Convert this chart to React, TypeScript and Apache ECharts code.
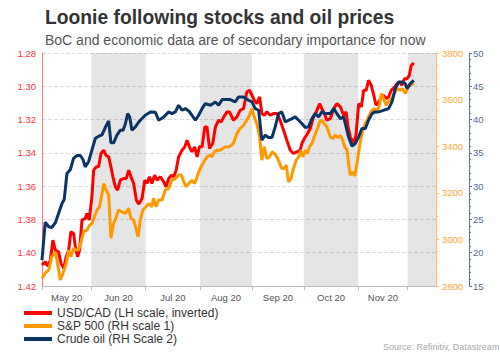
import React, { useEffect, useRef } from "react";
import * as echarts from "echarts";

// trading-day index of each month start (May 1 2020 = 0)
const monthStarts = [0, 20, 42, 64, 85, 106, 128, 148];
const axisEndDay = 159.5;
const monthLabels = ["May 20", "Jun 20", "Jul 20", "Aug 20", "Sep 20", "Oct 20", "Nov 20"];
const shadedMonthIdx = [1, 3, 5, 7];

const title = "Loonie following stocks and oil prices";
const subtitle = "BoC and economic data are of secondary importance for now";
const source = "Source: Refinitiv, Datastream";

const seriesNames = ["USD/CAD (LH scale, inverted)", "S&P 500 (RH scale 1)", "Crude oil (RH Scale 2)"];

const usdcad: [number, number][] = [
  [0.0, 1.4074], [1.3, 1.4054], [2.3, 1.408], [3.4, 1.4044], [4.4, 1.3924], [5.4, 1.3984], [6.7, 1.3994],
  [7.7, 1.4064], [8.8, 1.4094], [9.8, 1.4024], [10.8, 1.3984], [11.7, 1.3874], [12.8, 1.3884], [13.5, 1.3964],
  [14.4, 1.4024], [15.2, 1.3984], [16.2, 1.3804], [17.5, 1.3794], [18.2, 1.3764], [19.1, 1.3804], [20.2, 1.3664],
  [20.9, 1.3504], [22.0, 1.3484], [22.9, 1.3484], [23.9, 1.3404], [25.0, 1.3384], [25.9, 1.3414], [27.0, 1.3424],
  [27.9, 1.3484], [28.7, 1.3544], [29.7, 1.3604], [30.6, 1.3624], [31.7, 1.3564], [33.0, 1.3554], [34.1, 1.3554],
  [35.1, 1.3504], [36.0, 1.3544], [37.1, 1.3584], [38.2, 1.3684], [39.2, 1.3708], [40.5, 1.3674], [41.6, 1.3564],
  [42.5, 1.3584], [43.5, 1.3544], [44.5, 1.3584], [45.6, 1.3534], [46.6, 1.3564], [47.9, 1.3544], [49.3, 1.3574],
  [50.2, 1.3604], [51.3, 1.3554], [52.4, 1.3534], [53.3, 1.3544], [54.3, 1.3504], [55.3, 1.3424], [56.7, 1.3384],
  [57.8, 1.3364], [58.7, 1.3324], [59.7, 1.3364], [60.7, 1.3394], [61.8, 1.3364], [62.8, 1.3424], [63.7, 1.3364],
  [64.8, 1.3364], [65.9, 1.3244], [66.8, 1.3244], [67.8, 1.3374], [69.1, 1.3344], [70.2, 1.3244], [71.5, 1.3204],
  [72.6, 1.3214], [73.6, 1.3184], [74.9, 1.3154], [75.9, 1.3154], [77.5, 1.3204], [78.9, 1.3184], [80.2, 1.3144],
  [81.6, 1.3134], [82.9, 1.3034], [84.0, 1.3024], [85.0, 1.3054], [85.9, 1.3084], [87.0, 1.3104], [88.1, 1.3064],
  [89.0, 1.3164], [90.0, 1.3174], [91.0, 1.3154], [92.4, 1.3174], [93.7, 1.3164], [95.1, 1.3164], [96.4, 1.3204],
  [97.8, 1.3264], [99.1, 1.3324], [100.5, 1.3384], [101.8, 1.3404], [103.2, 1.3394], [104.5, 1.3384], [105.2, 1.3344],
  [106.2, 1.3314], [107.5, 1.3284], [108.6, 1.3254], [109.9, 1.3184], [111.0, 1.3154], [112.4, 1.3104], [113.3, 1.3134],
  [114.3, 1.3164], [115.3, 1.3204], [116.7, 1.3194], [118.1, 1.3134], [119.4, 1.3104], [120.8, 1.3124], [122.1, 1.3174],
  [123.1, 1.3154], [123.9, 1.3244], [124.8, 1.3304], [126.2, 1.3344], [127.1, 1.3294], [128.2, 1.3104], [129.3, 1.3124],
  [130.2, 1.3024], [131.2, 1.3024], [132.2, 1.2964], [133.3, 1.2994], [134.3, 1.3054], [135.2, 1.3114], [136.3, 1.3094],
  [137.4, 1.3064], [138.3, 1.3054], [139.3, 1.3074], [140.3, 1.3064], [141.4, 1.3024], [142.8, 1.3004], [143.7, 1.2984],
  [144.7, 1.2974], [145.7, 1.2994], [146.8, 1.2954], [147.8, 1.2954], [148.7, 1.2934], [149.5, 1.2874], [150.5, 1.286],
];

const sp500: [number, number][] = [
  [0.0, 2833], [1.3, 2855], [2.7, 2869], [4.0, 2926], [5.4, 2947], [6.3, 2897], [7.4, 2826], [8.5, 2855],
  [9.8, 2897], [10.8, 2954], [11.7, 2926], [12.8, 2962], [13.9, 2954], [14.8, 2954], [15.8, 2990], [16.9, 3033],
  [18.2, 3040], [19.3, 3061], [20.2, 3068], [21.2, 3097], [22.3, 3126], [23.3, 3140], [24.3, 3197], [25.0, 3240],
  [26.0, 3211], [27.0, 3190], [27.9, 3005], [29.0, 3068], [30.1, 3097], [31.0, 3126], [32.4, 3118], [33.7, 3111],
  [35.1, 3133], [36.0, 3090], [37.1, 3083], [38.2, 3040], [38.9, 3011], [39.8, 3083], [40.8, 3126], [42.1, 3140],
  [43.2, 3154], [44.3, 3140], [45.2, 3176], [46.2, 3140], [47.2, 3169], [48.6, 3169], [49.9, 3212], [51.3, 3219],
  [52.6, 3254], [54.0, 3261], [55.3, 3276], [56.4, 3276], [57.4, 3247], [58.3, 3226], [59.4, 3240], [60.7, 3254],
  [61.8, 3240], [62.8, 3269], [63.7, 3297], [64.8, 3319], [65.9, 3340], [66.8, 3354], [67.8, 3362], [68.8, 3354],
  [69.8, 3376], [70.9, 3383], [72.2, 3383], [73.2, 3390], [74.2, 3397], [75.6, 3397], [76.2, 3400], [77.5, 3412],
  [78.9, 3454], [80.2, 3476], [81.6, 3490], [82.9, 3512], [84.0, 3533], [85.0, 3562], [85.9, 3526], [87.0, 3497],
  [88.1, 3440], [89.0, 3340], [90.0, 3397], [91.0, 3347], [92.1, 3354], [93.1, 3376], [94.0, 3369], [95.1, 3354],
  [96.2, 3326], [97.1, 3304], [98.1, 3304], [98.9, 3319], [99.8, 3247], [100.8, 3261], [101.8, 3304], [102.9, 3340],
  [103.9, 3354], [104.8, 3383], [105.6, 3354], [106.6, 3383], [107.5, 3369], [108.3, 3397], [109.3, 3412], [110.2, 3440],
  [111.3, 3469], [112.4, 3504], [113.3, 3512], [114.3, 3497], [115.3, 3483], [116.7, 3440], [117.7, 3433], [118.7, 3447],
  [119.8, 3437], [120.8, 3447], [121.7, 3426], [122.5, 3397], [123.5, 3383], [124.1, 3326], [124.8, 3276], [125.8, 3290],
  [126.6, 3272], [127.5, 3326], [128.5, 3397], [129.5, 3454], [130.6, 3490], [131.6, 3512], [132.5, 3533], [133.6, 3554],
  [134.7, 3562], [135.6, 3547], [136.6, 3576], [137.4, 3626], [138.3, 3604], [139.3, 3576], [140.1, 3590], [141.0, 3597],
  [142.0, 3612], [143.0, 3633], [144.1, 3647], [145.1, 3640], [146.0, 3647], [147.1, 3626], [148.2, 3654], [149.1, 3662],
  [150.5, 3669],
];

const crude: [number, number][] = [
  [0.0, 18.9], [1.3, 24.6], [2.7, 23.9], [4.0, 23.8], [5.4, 24.5], [6.7, 25.9], [8.1, 27.4], [9.0, 28.0],
  [10.1, 31.9], [11.5, 32.5], [12.8, 34.2], [14.2, 34.6], [15.5, 34.6], [16.6, 34.0], [17.5, 32.9], [18.9, 33.7],
  [20.2, 35.4], [21.6, 37.2], [23.0, 37.5], [24.3, 37.7], [25.6, 38.8], [27.0, 39.8], [27.9, 36.5], [29.0, 36.5],
  [30.4, 37.7], [31.7, 38.4], [32.8, 38.4], [33.7, 39.3], [34.7, 40.9], [35.5, 40.4], [36.4, 38.4], [37.8, 38.9],
  [39.1, 39.6], [39.8, 39.9], [41.8, 40.65], [43.9, 41.15], [45.9, 41.1], [47.2, 39.9], [49.3, 40.4], [51.3, 41.15],
  [52.6, 40.9], [54.0, 41.15], [55.3, 42.15], [56.7, 41.4], [58.0, 41.65], [59.4, 41.3], [60.7, 40.65], [62.1, 39.9],
  [63.4, 40.65], [64.8, 41.65], [66.1, 42.4], [68.2, 42.15], [70.2, 42.65], [71.5, 42.15], [72.9, 43.0], [74.9, 43.0],
  [76.2, 43.0], [78.2, 42.65], [79.6, 43.4], [81.6, 43.4], [83.6, 42.9], [85.0, 42.65], [86.3, 41.65], [87.7, 41.4],
  [89.0, 36.9], [90.4, 37.65], [91.7, 37.3], [93.1, 37.3], [94.4, 38.9], [95.8, 40.9], [97.1, 41.15], [98.5, 39.65],
  [99.8, 39.9], [101.2, 40.15], [102.5, 40.4], [103.9, 39.9], [105.2, 39.4], [106.6, 38.8], [107.9, 38.9], [109.3, 40.15],
  [110.6, 40.9], [112.0, 40.4], [113.3, 41.15], [114.7, 40.9], [116.7, 40.9], [118.1, 41.65], [119.4, 40.9], [120.8, 40.15],
  [122.1, 40.4], [123.1, 38.9], [124.1, 37.4], [125.5, 36.0], [126.8, 36.4], [128.2, 37.4], [129.5, 38.65], [130.9, 38.65],
  [132.2, 39.9], [133.6, 40.9], [134.9, 41.15], [136.3, 41.15], [137.6, 41.3], [139.0, 41.5], [140.3, 41.65], [141.7, 42.65],
  [143.0, 44.65], [144.4, 45.65], [145.7, 45.65], [147.1, 45.4], [147.8, 44.65], [149.1, 45.4], [150.5, 45.9],
];

const FONT = 'Arial, "Liberation Sans", sans-serif';

export default function App() {
  const ref = useRef<HTMLDivElement>(null);

  useEffect(() => {
    if (!ref.current) return;
    const chart = echarts.init(ref.current, undefined, { renderer: "svg" });

    const monthMids = monthLabels.map((_, i) => (monthStarts[i] + monthStarts[i + 1]) / 2);
    const bands = shadedMonthIdx.map((i) => [
      { xAxis: monthStarts[i] },
      { xAxis: i + 1 < monthStarts.length ? monthStarts[i + 1] : axisEndDay },
    ]);

    const lineBase = {
      type: "line",
      showSymbol: false,
      symbol: "none",
      smooth: false,
      z: 3,
    };

    chart.setOption({
      animation: false,
      textStyle: { fontFamily: FONT },
      title: [
        {
          text: title,
          left: 40,
          top: 3,
          textStyle: { fontSize: 19.3, fontWeight: "bold", color: "#333333", fontFamily: FONT },
        },
        {
          text: subtitle,
          left: 40,
          top: 28,
          textStyle: { fontSize: 14, fontWeight: "normal", color: "#555555", fontFamily: FONT },
        },
      ],
      graphic: [
        {
          type: "text",
          left: 383,
          top: 342,
          style: { text: source, font: `9px ${FONT}`, fill: "#aaaaaa" },
        },
      ],
      legend: {
        orient: "vertical",
        left: 19,
        top: 302,
        itemWidth: 28,
        itemHeight: 4,
        itemGap: 1,
        icon: "rect",
        textStyle: { fontSize: 12, color: "#333333", fontFamily: FONT, padding: [0, 0, 0, 0] },
        data: seriesNames,
      },
      grid: { left: 42, right: 64, top: 53, bottom: 67, containLabel: false },
      xAxis: {
        type: "value",
        min: 0,
        max: axisEndDay,
        axisLine: { show: true, lineStyle: { color: "#bbbbbb", width: 1 } },
        axisTick: { show: true, customValues: monthStarts, length: 4, lineStyle: { color: "#bbbbbb" } },
        axisLabel: {
          customValues: monthMids,
          fontSize: 9.5,
          color: "#555555",
          margin: 6,
          formatter: (v: number) => {
            const i = monthMids.findIndex((m) => Math.abs(m - v) < 0.01);
            return i >= 0 ? monthLabels[i] : "";
          },
        },
        splitLine: { show: false },
      },
      yAxis: [
        {
          type: "value",
          inverse: true,
          min: 1.28,
          max: 1.42,
          interval: 0.02,
          position: "left",
          axisLine: { show: true, lineStyle: { color: "#ff7777", width: 1 } },
          axisTick: { show: false },
          axisLabel: { color: "#ff3333", fontSize: 9.5, margin: 6, formatter: (v: number) => v.toFixed(2) },
          splitLine: { show: true, lineStyle: { color: "#dddddd", type: "dashed", width: 1 } },
        },
        {
          type: "value",
          min: 2800,
          max: 3800,
          interval: 200,
          position: "right",
          axisLine: { show: true, lineStyle: { color: "#ffc266", width: 1 } },
          axisTick: { show: true, inside: false, length: 3, lineStyle: { color: "#ffc266" } },
          minorTick: { show: true, splitNumber: 4, length: 2, lineStyle: { color: "#ffc266" } },
          axisLabel: { color: "#ffa733", fontSize: 9.5, margin: 6, formatter: (v: number) => String(Math.round(v)) },
          splitLine: { show: false },
        },
        {
          type: "value",
          min: 15,
          max: 50,
          interval: 5,
          position: "right",
          offset: 33,
          axisLine: { show: true, lineStyle: { color: "#5a769e", width: 1 } },
          axisTick: { show: true, length: 3, lineStyle: { color: "#5a769e" } },
          minorTick: { show: true, splitNumber: 5, length: 2, lineStyle: { color: "#5a769e" } },
          axisLabel: { color: "#4f6d9a", fontSize: 9.5, margin: 4, formatter: (v: number) => String(Math.round(v)) },
          splitLine: { show: false },
        },
      ],
      series: [
        {
          type: "line",
          name: "bands",
          data: [],
          xAxisIndex: 0,
          yAxisIndex: 0,
          z: 1,
          silent: true,
          markArea: {
            silent: true,
            itemStyle: { color: "rgba(0,0,0,0.1)" },
            data: bands,
          },
        },
        {
          ...lineBase,
          name: seriesNames[0],
          yAxisIndex: 0,
          data: usdcad,
          color: "#ff0000",
          lineStyle: { color: "#ff0000", width: 3 },
        },
        {
          ...lineBase,
          name: seriesNames[1],
          yAxisIndex: 1,
          data: sp500,
          color: "#ff9900",
          lineStyle: { color: "#ff9900", width: 3 },
        },
        {
          ...lineBase,
          name: seriesNames[2],
          yAxisIndex: 2,
          data: crude,
          color: "#0a3366",
          lineStyle: { color: "#0a3366", width: 3 },
        },
      ],
    });

    return () => chart.dispose();
  }, []);

  return (
    <div
      ref={ref}
      style={{ position: "fixed", left: 0, top: 0, width: 500, height: 353, background: "#ffffff" }}
    />
  );
}
